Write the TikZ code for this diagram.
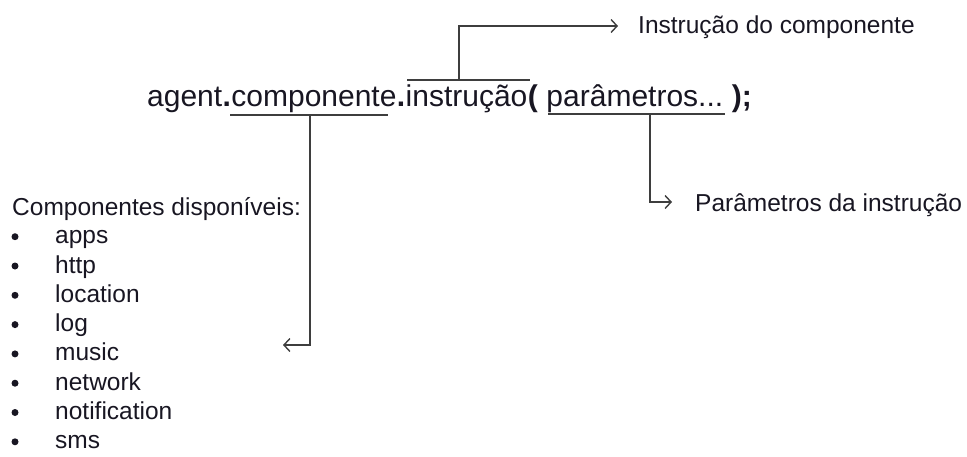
\documentclass[tikz,border=0pt]{standalone}
\usepackage{fontspec}
\setmainfont{Liberation Sans}
\usetikzlibrary{calc,arrows.meta}

\definecolor{ink}{RGB}{24,22,34}
\definecolor{wire}{RGB}{62,62,62}

\tikzset{
  code/.style={inner sep=0pt, anchor=base west, text=ink,
    font=\fontsize{30}{36}\selectfont},
  note/.style={inner sep=0pt, anchor=base west, text=ink,
    font=\fontsize{24.5}{29}\selectfont},
  wireline/.style={draw=wire, line width=1.6pt},
  pointer/.style={wireline, -{Straight Barb[length=6pt,width=13pt,line width=1.4pt]}},
  dotmark/.style={circle, fill=ink, inner sep=0pt, minimum size=7pt}
}

\begin{document}
\begin{tikzpicture}[x=1pt,y=-1pt]
  \useasboundingbox (0,0) rectangle (967,456);

  % the call expression, one piece per node
  \node[code] (agent) at (147,106) {agent};
  \node[code] (dotA)  at (agent.base east) {\bfseries .};
  \node[code] (comp)  at (dotA.base east) {componente};
  \node[code] (dotB)  at (comp.base east) {\bfseries .};
  \node[code] (instr) at (dotB.base east) {instrução};
  \node[code] (paren) at (instr.base east) {\bfseries (};
  \node[code] (param) at ($(paren.base east)+(8.3,0)$) {parâmetros...};
  \node[code] (close) at ($(param.base east)+(8.3,0)$) {\bfseries );};

  % labels
  \node[note] (lblInstr) at (638,33) {Instrução do componente};
  \node[note] (lblParam) at (695,211) {Parâmetros da instrução};

  % list of available components
  \node[note] (listHead) at (12,215) {Componentes disponíveis:};
  \foreach \item [count=\k from 0] in {apps,http,location,log,music,network,notification,sms}{
    \node[note] (item\k) at (55,243.7+29.3*\k) {\item};
    \node[dotmark] (bullet\k) at (15,236.7+29.3*\k) {};
  }

  % instruction: overline, then up and across to its label
  \coordinate (instrL) at (407,80);
  \coordinate (instrR) at (530,80);
  \coordinate (instrJ) at (459,80);
  \coordinate (instrTip) at ($(lblInstr.base west)+(-20,-7)$);
  \draw[wireline] (instrL) -- (instrR);
  \draw[pointer] (instrJ) |- (instrTip);

  % component: underline, then down and back to the list
  \coordinate (compL) at (230,115);
  \coordinate (compR) at (388,115);
  \coordinate (compJ) at (310,115);
  \coordinate (compTip) at (283,345);
  \draw[wireline] (compL) -- (compR);
  \draw[pointer] (compJ) |- (compTip);

  % parameters: underline, then down and across to its label
  \coordinate (paramL) at (548,114);
  \coordinate (paramR) at (725,114);
  \coordinate (paramJ) at (650,114);
  \coordinate (paramTip) at ($(lblParam.base west)+(-23,-9)$);
  \draw[wireline] (paramL) -- (paramR);
  \draw[pointer] (paramJ) |- (paramTip);
\end{tikzpicture}
\end{document}
